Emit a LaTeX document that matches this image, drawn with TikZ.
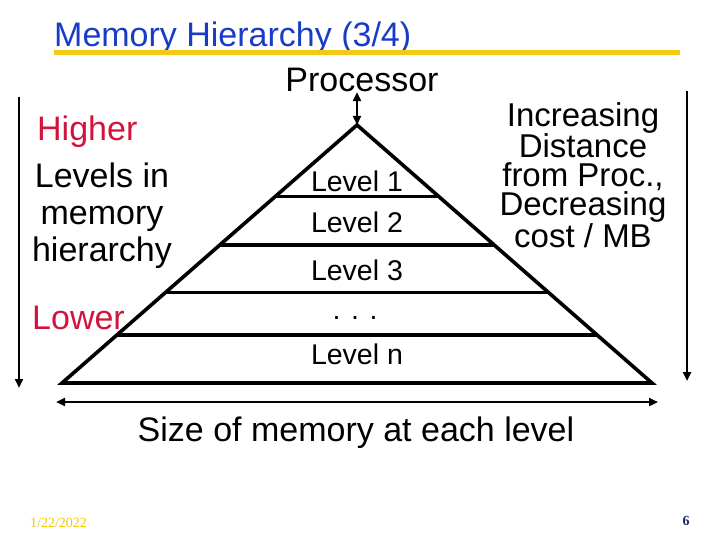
\documentclass[tikz,border=0pt]{standalone}
\usepackage{fontspec}
\setmainfont{Liberation Sans}
\newfontfamily\slidefoot{Liberation Serif}
\usetikzlibrary{arrows.meta,calc}
\definecolor{titleblue}{RGB}{25,60,200}
\definecolor{rulegold}{RGB}{245,200,20}
\definecolor{dategold}{RGB}{240,200,0}
\definecolor{levred}{RGB}{210,20,60}
\definecolor{pagenavy}{RGB}{31,42,107}

\begin{document}
\begin{tikzpicture}[x=1pt,y=-1pt,>={Triangle[length=9pt,width=8pt]},
 big/.style={inner sep=0pt,align=center,font=\fontsize{34}{37}\selectfont},
 lvl/.style={inner sep=0pt,font=\fontsize{28.5}{30}\selectfont},
 tri/.style={line width=3.6pt,line join=miter},
 arr/.style={line width=2.6pt}]
\useasboundingbox (0,0) rectangle (720,540);
% title and rule
\node[big,anchor=west,text=titleblue] (title) at (54,38) {Memory Hierarchy (3/4)};
\draw[rulegold,line width=5pt] (54,53) -- (680,53);
% pyramid
\node[big] (proc) at (362,80) {Processor};
\coordinate (apex) at (357,125);
\coordinate (bl) at (62,383);
\coordinate (br) at (652,383);
\draw[arr,<->] (apex |- proc.south) -- (apex);
\draw[tri] (apex) -- (bl) -- (br) -- cycle;
\foreach \f in {0.277,0.464,0.650,0.814}
  \draw[tri] ($(apex)!\f!(bl)$) -- ($(apex)!\f!(br)$);
\node[lvl] (l1) at (357,181) {Level 1};
\node[lvl] (l2) at (357,222) {Level 2};
\node[lvl] (l3) at (357,270) {Level 3};
\node[lvl] (ldots) at (355,318) {. . .};
\node[lvl] (ln) at (357,354) {Level n};
% left side
\node[big,anchor=west,text=levred] (higher) at (37,132) {Higher};
\node[big] (levels) at (102,216) {Levels in\\memory\\hierarchy};
\node[big,anchor=west,text=levred] (lower) at (32,318) {Lower};
\coordinate (ltop) at (19,97);
\coordinate (lbot) at (19,388);
\draw[arr,->] (ltop) -- (lbot);
% right side
\node[big,font=\fontsize{33}{29}\selectfont] (dist) at (583,175)
  {Increasing\\Distance\\from Proc.,\\Decreasing\\cost / MB};
\coordinate (rtop) at (687,91);
\coordinate (rbot) at (687,381);
\draw[arr,->] (rtop) -- (rbot);
% size
\coordinate (sl) at (56,402);
\coordinate (sr) at (658,402);
\draw[arr,<->] (sl) -- (sr);
\node[big] (size) at (356,433) {Size of memory at each level};
% footer
\node[inner sep=0pt,anchor=west,text=dategold,font=\slidefoot\fontsize{14}{16}\selectfont] (date) at (30,523) {1/22/2022};
\node[inner sep=0pt,text=pagenavy,font=\slidefoot\bfseries\fontsize{14}{16}\selectfont] (page) at (686,521) {6};
\end{tikzpicture}
\end{document}
